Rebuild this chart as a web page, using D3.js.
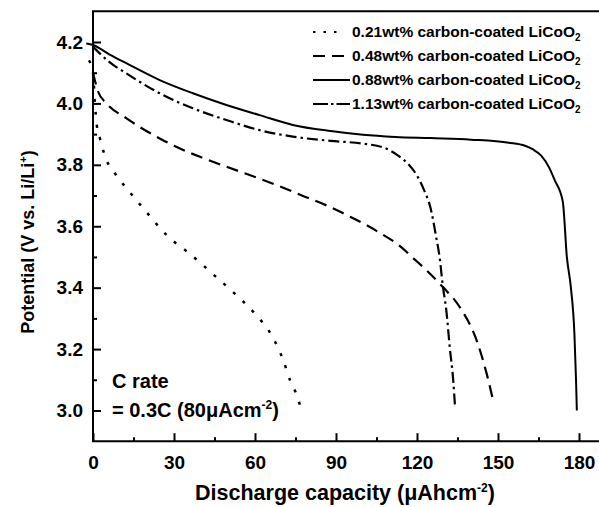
<!DOCTYPE html>
<html>
<head>
<meta charset="utf-8">
<script src="https://cdn.jsdelivr.net/npm/d3@7"></script>
<style>
  body { margin: 0; background: #fff; }
  text { font-family: "Liberation Sans", Arial, Helvetica, sans-serif; font-weight: bold; fill: #000; }
</style>
</head>
<body>
<div id="chart"></div>
<script>
// series (capacity in uAh/cm2, potential in V)
const series_names = ["0.21wt% carbon-coated LiCoO", "0.48wt% carbon-coated LiCoO",
                      "0.88wt% carbon-coated LiCoO", "1.13wt% carbon-coated LiCoO"]

const cap_021 = [-1.5, 0, 0.7, 1.4, 2.6, 5, 7.5, 10, 13.7, 19.9, 27.5, 35.9, 44.3, 52.6, 60, 66.2, 70.5, 73, 75, 76.7]
const pot_021 = [4.14, 4.10, 4.0, 3.93, 3.885, 3.815, 3.78, 3.75, 3.71, 3.645, 3.569, 3.51, 3.445, 3.38, 3.315, 3.244, 3.163, 3.098, 3.06, 3.017]

const cap_048 = [0, 1.9, 5, 12.3, 24.7, 30, 39.6, 50, 58, 68, 78, 88, 95, 105, 113.7, 119, 123.6, 129.7, 135.9, 142.1, 145.8, 148.3]
const pot_048 = [4.10, 4.038, 4.0, 3.952, 3.886, 3.862, 3.826, 3.792, 3.767, 3.734, 3.698, 3.662, 3.632, 3.585, 3.535, 3.493, 3.456, 3.401, 3.336, 3.228, 3.12, 3.028]

const cap_088 = [-2.5, 0, 6, 12.3, 24.7, 37, 49.4, 61.7, 74, 88, 100, 112, 125, 140, 154, 160, 163, 166, 169, 171, 174, 175.5, 177, 178.3, 178.9, 179.2]
const pot_088 = [4.195, 4.19, 4.16, 4.131, 4.076, 4.033, 3.995, 3.962, 3.93, 3.91, 3.898, 3.891, 3.887, 3.882, 3.872, 3.862, 3.85, 3.83, 3.79, 3.75, 3.68, 3.5, 3.4, 3.25, 3.1, 3.0]

const cap_113 = [0, 2.5, 6, 12.3, 24.7, 37, 49.4, 61.7, 74, 88, 100, 108, 113, 117, 120, 122.5, 125, 127, 128.5, 129.5, 130.8, 132.2, 133.4, 134.1]
const pot_113 = [4.185, 4.163, 4.135, 4.098, 4.033, 3.984, 3.946, 3.913, 3.892, 3.878, 3.869, 3.855, 3.83, 3.8, 3.765, 3.72, 3.66, 3.57, 3.49, 3.41, 3.33, 3.2, 3.1, 3.01]

const x_ticks = [0, 30, 60, 90, 120, 150, 180]
const x_minor = [15, 45, 75, 105, 135, 165]
const y_ticks = [3.0, 3.2, 3.4, 3.6, 3.8, 4.0, 4.2]
const y_minor = [3.1, 3.3, 3.5, 3.7, 3.9, 4.1]

let width = 599
let height = 507

let svg = d3.select("#chart")
  .append("svg")
  .attr("width", width)
  .attr("height", height)

let x = d3.scaleLinear().domain([0, 180]).range([93, 579])
let y = d3.scaleLinear().domain([3.0, 4.2]).range([410.5, 42])

let top_y = y(4.3)
let bot_y = y(2.9)

// frame: left, top and bottom lines only (right side runs off the picture)
svg.append("path")
  .attr("d", "M" + width + "," + top_y + "H" + x(0) + "V" + bot_y + "H" + width)
  .attr("fill", "none")
  .attr("stroke", "#000")
  .attr("stroke-width", 2)

// x axis, ticks pointing inwards
svg.append("g")
  .attr("transform", "translate(0," + bot_y + ")")
  .call(d3.axisBottom(x).tickValues(x_ticks).tickSize(-8).tickPadding(14).tickFormat(d3.format("d")))
svg.append("g")
  .attr("transform", "translate(0," + bot_y + ")")
  .call(d3.axisBottom(x).tickValues(x_minor).tickSize(-4).tickFormat(""))

// y axis
svg.append("g")
  .attr("transform", "translate(" + x(0) + ",0)")
  .call(d3.axisLeft(y).tickValues(y_ticks).tickSize(-8).tickPadding(10).tickFormat(d3.format(".1f")))
svg.append("g")
  .attr("transform", "translate(" + x(0) + ",0)")
  .call(d3.axisLeft(y).tickValues(y_minor).tickSize(-4).tickFormat(""))

svg.selectAll(".domain").remove()
svg.selectAll(".tick line").attr("stroke", "#000").attr("stroke-width", 2)
svg.selectAll(".tick text")
  .style("font-size", "19px")
  .style("font-family", "'Liberation Sans', Arial, sans-serif")
  .style("font-weight", "bold")
  .attr("fill", "#000")

// curves
let styles = ["3,10", "12,7", null, "11,4,2.5,4"]
let widths = [2.5, 2.2, 2, 2.2]
let data = [
  d3.zip(cap_021, pot_021),
  d3.zip(cap_048, pot_048),
  d3.zip(cap_088, pot_088),
  d3.zip(cap_113, pot_113)
]

let line = d3.line()
  .x(d => x(d[0]))
  .y(d => y(d[1]))
  .curve(d3.curveMonotoneX)

svg.append("g")
  .selectAll("path")
  .data(data)
  .enter()
  .append("path")
  .attr("d", line)
  .attr("fill", "none")
  .attr("stroke", "#000")
  .attr("stroke-width", (d, i) => widths[i])
  .attr("stroke-dasharray", (d, i) => styles[i])

// legend
let legend = svg.append("g")
let rows = legend.selectAll("g")
  .data(series_names)
  .enter().append("g")
  .attr("transform", (d, i) => "translate(0," + (37 + i * 24) + ")")

rows.append("line")
  .attr("x1", 313)
  .attr("x2", (d, i) => i == 0 ? 340 : 350)
  .attr("y1", -5)
  .attr("y2", -5)
  .attr("stroke", "#000")
  .attr("stroke-width", 2)
  .attr("stroke-dasharray", (d, i) => i == 0 ? "2.5,8" : i == 1 ? "12,7" : i == 3 ? "15,3,2.5,3" : null)

let lt = rows.append("text")
  .attr("x", 352)
  .style("font-size", "15.5px")
lt.append("tspan").text(d => d)
lt.append("tspan").attr("dy", 4).style("font-size", "10px").text("2")

// C rate note
svg.append("text")
  .attr("x", 112)
  .attr("y", 388)
  .style("font-size", "20px")
  .text("C rate")

let note = svg.append("text")
  .attr("x", 112)
  .attr("y", 417)
  .style("font-size", "20px")
note.append("tspan").text("= 0.3C (80\u03BCAcm")
note.append("tspan").attr("dy", -8).style("font-size", "12px").text("-2")
note.append("tspan").attr("dy", 8).text(")")

// axis titles
let xt = svg.append("text")
  .attr("x", 345)
  .attr("y", 500)
  .attr("text-anchor", "middle")
  .style("font-size", "21.5px")
xt.append("tspan").text("Discharge capacity (\u03BCAhcm")
xt.append("tspan").attr("dy", -8).style("font-size", "12px").text("-2")
xt.append("tspan").attr("dy", 8).text(")")

let yt = svg.append("text")
  .attr("transform", "translate(34,242) rotate(-90)")
  .attr("text-anchor", "middle")
  .style("font-size", "18px")
yt.append("tspan").text("Potential (V vs. Li/Li")
yt.append("tspan").attr("dy", -7).style("font-size", "11px").text("+")
yt.append("tspan").attr("dy", 7).text(")")
</script>
</body>
</html>
